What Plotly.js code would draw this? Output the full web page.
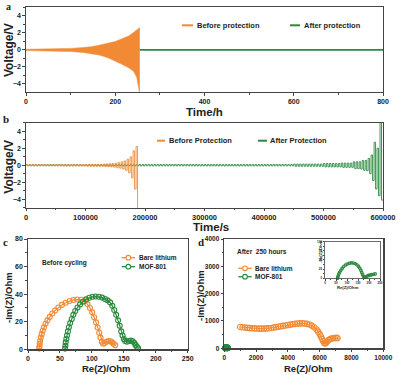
<!DOCTYPE html>
<html><head><meta charset="utf-8">
<script src="https://cdn.plot.ly/plotly-3.0.1.min.js"></script>
<style>html,body{margin:0;padding:0;background:#fff}#chart{width:398px;height:375px}</style>
</head><body><div id="chart"></div>
<script>
// ---------- DATA ----------
// Panel a: envelope of the dense voltage oscillation (Before protection)
const aEnvTime  = [0, 50, 100, 128, 150, 166, 185, 200, 215, 230, 241, 248, 252, 255];
const aEnvUpper = [0.08, 0.12, 0.18, 0.28, 0.4, 0.58, 0.8, 1.0, 1.3, 1.65, 2.05, 2.3, 2.55, 2.65];
const aEnvLower = [-0.08, -0.12, -0.2, -0.3, -0.45, -0.62, -0.95, -1.3, -1.7, -2.1, -2.5, -3.2, -4.5, -5.2];
const aAfterTime = [255, 800];
const aAfterV    = [0, 0];

// Panel b: per-cycle plateau voltages (cycle period in s)
const bCyclePeriod = 5000;
const bBeforeHigh = [
 0.05,0.05,0.05,0.05,0.05,0.05,0.05,0.05,0.05,0.05,
 0.07,0.07,0.07,0.07,0.07,0.07,0.07,0.07,0.07,0.07,
 0.1,0.1,0.1,0.1,0.1,0.1,0.13,0.15,0.18,0.2,
 0.25,0.3,0.4,0.5,0.7,1.0,1.7,2.2];
const bBeforeLow = [
 -0.05,-0.05,-0.05,-0.05,-0.05,-0.05,-0.05,-0.05,-0.05,-0.05,
 -0.08,-0.08,-0.08,-0.08,-0.08,-0.08,-0.08,-0.08,-0.08,-0.08,
 -0.12,-0.12,-0.12,-0.12,-0.12,-0.12,-0.15,-0.18,-0.2,-0.23,
 -0.3,-0.35,-0.45,-0.6,-0.9,-1.5,-2.8,-5.3];
const bAfterHigh = [
 0.06,0.06,0.06,0.06,0.06,0.06,0.06,0.06,0.06,0.06,
 0.06,0.06,0.06,0.06,0.06,0.06,0.06,0.06,0.06,0.06,
 0.06,0.06,0.06,0.06,0.06,0.06,0.06,0.06,0.06,0.06,
 0.06,0.06,0.06,0.06,0.06,0.06,0.06,0.06,0.08,0.08,
 0.08,0.08,0.08,0.08,0.08,0.08,0.08,0.08,0.08,0.08,
 0.08,0.08,0.08,0.08,0.08,0.08,0.08,0.08,0.08,0.08,
 0.08,0.08,0.08,0.08,0.08,0.08,0.08,0.08,0.08,0.08,
 0.08,0.08,0.08,0.08,0.08,0.08,0.08,0.08,0.08,0.08,
 0.08,0.08,0.08,0.08,0.08,0.08,0.08,0.08,0.08,0.08,
 0.13,0.13,0.13,0.13,0.13,0.13,0.13,0.13,0.13,0.13,
 0.2,0.2,0.2,0.2,0.2,0.2,0.25,0.25,0.25,0.25,
 0.4,0.4,0.4,0.55,0.55,0.8,1.2,2.7,2.0,5.2];
const bAfterLow = [
 -0.06,-0.06,-0.06,-0.06,-0.06,-0.06,-0.06,-0.06,-0.06,-0.06,
 -0.06,-0.06,-0.06,-0.06,-0.06,-0.06,-0.06,-0.06,-0.06,-0.06,
 -0.06,-0.06,-0.06,-0.06,-0.06,-0.06,-0.06,-0.06,-0.06,-0.06,
 -0.06,-0.06,-0.06,-0.06,-0.06,-0.06,-0.06,-0.06,-0.08,-0.08,
 -0.08,-0.08,-0.08,-0.08,-0.08,-0.08,-0.08,-0.08,-0.08,-0.08,
 -0.08,-0.08,-0.08,-0.08,-0.08,-0.08,-0.08,-0.08,-0.08,-0.08,
 -0.08,-0.08,-0.08,-0.08,-0.08,-0.08,-0.08,-0.08,-0.08,-0.08,
 -0.08,-0.08,-0.08,-0.08,-0.08,-0.08,-0.08,-0.08,-0.08,-0.08,
 -0.08,-0.08,-0.08,-0.08,-0.08,-0.08,-0.08,-0.08,-0.08,-0.08,
 -0.13,-0.13,-0.13,-0.13,-0.13,-0.13,-0.13,-0.13,-0.13,-0.13,
 -0.2,-0.2,-0.2,-0.2,-0.2,-0.2,-0.25,-0.25,-0.25,-0.25,
 -0.4,-0.4,-0.45,-0.6,-0.65,-1.0,-1.8,-2.8,-3.6,-4.1];

// Panel c: EIS before cycling
const cBareRe = [17.5,18,18.5,19,20,21.5,23,25,27.5,30.5,34,38,42.5,47.5,53,59,65,71,77,83,88.5,93,97,100.5,103.5,106.5,109,111.5,113.5,115.5,117.5,120,123,126,129,131.5,134,136.5];
const cBareIm = [0.5,2,4,6,8.5,11,13.5,16,18.5,21,23.5,26,28.2,30.3,32.2,33.8,35,35.8,36.1,35.9,34.8,32.8,30,26.8,23.3,19.5,15.8,12,8.5,5.5,4,4.5,5.5,6,5.8,5,4,3];
const cMofRe = [58,58.5,59,60,61,62.5,64,66,68.5,71,74,77.5,81.5,86,91,96,101,106,111,116,120.5,124.5,128.5,132,135,138,141,143.5,146,148,150,152,155,158,161,164,166.5,168.5,170.5,172.5];
const cMofIm = [0.5,2.5,5,7.5,10,13,16,19,22,25,27.8,30.3,32.5,34.5,36.2,37.4,38.1,38.3,38.1,37.5,36.5,35.5,34,31.5,28.5,25,21,17,13,10,7.5,6,5.5,6,6.3,5.8,4.5,3,1.8,0.8];

// Panel d: EIS after 250 hours
const dBareRe = [1000,1150,1300,1450,1600,1750,1900,2050,2200,2350,2500,2650,2800,2950,3100,3250,3400,3550,3700,3850,4000,4150,4300,4450,4600,4750,4900,5050,5200,5350,5500,5650,5800,5900,6000,6080,6150,6220,6280,6340,6400,6470,6550,6650,6750,6850,6950,7050,7120];
const dBareIm = [780,770,760,750,740,735,730,725,720,720,722,728,735,745,760,775,790,805,820,835,850,865,880,895,905,912,915,910,895,870,830,770,690,610,520,430,340,260,200,180,200,250,300,340,360,370,375,380,375];
const dMofRe = [57,58,60,63,67,72,78,85,93,101,110,119,128,137,145,152,158,163,167,171,175,180,186,192,198,205,212,220,228];
const dMofIm = [0,3,7,12,17,22,27,32,36,39,41,42,41.5,40,37,33,28,22,16,10,5,3,4,6,8,9,10,11,12];

// ---------- STYLE ----------
const W = 398, H = 375;
const ORANGE = '#F28A35', GREEN = '#2B8A3E';
const FONT = 'Liberation Sans, Arial, sans-serif';
const SERIF = 'Liberation Serif, Times New Roman, serif';
const fx = p => p / W;
const fy = p => 1 - p / H;

function squareWave(high, low, period) {
  const x = [], y = [];
  for (let k = 0; k < high.length; k++) {
    const t0 = k * period;
    x.push(t0, t0 + period / 2, t0 + period / 2, t0 + period);
    y.push(high[k], high[k], low[k], low[k]);
  }
  return {x, y};
}

function ax(domain, range, dtick, minorDtick, fsize, anchor, extra) {
  return Object.assign({
    domain, range, dtick, tick0: 0, anchor,
    showline: true, mirror: true, linecolor: '#444', linewidth: 1.2,
    ticks: 'outside', ticklen: 2.5, tickwidth: 1, tickcolor: '#444',
    minor: {ticks: 'outside', ticklen: 1.5, tickcolor: '#444', dtick: minorDtick, showgrid: false},
    showgrid: false, zeroline: false, tickformat: 'd',
    tickfont: {family: FONT, size: fsize, color: '#222', weight: 'bold'},
    fixedrange: true
  }, extra || {});
}

const bAfter = squareWave(bAfterHigh, bAfterLow, bCyclePeriod);
const bBefore = squareWave(bBeforeHigh, bBeforeLow, bCyclePeriod);

const mk = (c, s) => ({symbol: 'circle-open', size: s, color: c, line: {width: 1.1, color: c}});

const data = [
  {x: aEnvTime, y: aEnvLower, xaxis: 'x', yaxis: 'y', mode: 'lines', line: {color: ORANGE, width: 0.5}},
  {x: aEnvTime, y: aEnvUpper, xaxis: 'x', yaxis: 'y', mode: 'lines', fill: 'tonexty', fillcolor: ORANGE, line: {color: ORANGE, width: 0.5}},
  {x: aAfterTime, y: aAfterV, xaxis: 'x', yaxis: 'y', mode: 'lines', line: {color: GREEN, width: 1.6}},
  {x: bAfter.x, y: bAfter.y, xaxis: 'x2', yaxis: 'y2', mode: 'lines', line: {color: GREEN, width: 0.9}},
  {x: bBefore.x, y: bBefore.y, xaxis: 'x2', yaxis: 'y2', mode: 'lines', line: {color: ORANGE, width: 0.9}},
  {x: cBareRe, y: cBareIm, xaxis: 'x3', yaxis: 'y3', mode: 'lines+markers', cliponaxis: false, line: {color: ORANGE, width: 1.2}, marker: mk(ORANGE, 5)},
  {x: cMofRe, y: cMofIm, xaxis: 'x3', yaxis: 'y3', mode: 'lines+markers', cliponaxis: false, line: {color: GREEN, width: 1.2}, marker: mk(GREEN, 5)},
  {x: dBareRe, y: dBareIm, xaxis: 'x4', yaxis: 'y4', mode: 'lines+markers', cliponaxis: false, line: {color: ORANGE, width: 1.2}, marker: mk(ORANGE, 5.5)},
  {x: dMofRe, y: dMofIm, xaxis: 'x4', yaxis: 'y4', mode: 'lines+markers', cliponaxis: false, line: {color: GREEN, width: 1.2}, marker: mk(GREEN, 5)},
  {x: dMofRe, y: dMofIm, xaxis: 'x5', yaxis: 'y5', mode: 'lines+markers', cliponaxis: false, line: {color: GREEN, width: 0.8}, marker: mk(GREEN, 2.5)}
];

function txt(px, py, text, size, o) {
  return Object.assign({
    xref: 'paper', yref: 'paper', x: fx(px), y: fy(py), text, showarrow: false,
    xanchor: 'center', yanchor: 'middle',
    font: {family: FONT, size, color: '#222', weight: 'bold'}
  }, o || {});
}
function sline(x0, x1, y, c, w) {
  return {type: 'line', xref: 'paper', yref: 'paper', x0: fx(x0), x1: fx(x1), y0: fy(y), y1: fy(y), line: {color: c, width: w}};
}
function scirc(cx, cy, r, c) {
  return {type: 'circle', xref: 'paper', yref: 'paper', x0: fx(cx - r), x1: fx(cx + r), y0: fy(cy + r), y1: fy(cy - r), line: {color: c, width: 1.1}, fillcolor: '#fff'};
}

const layout = {
  width: W, height: H, margin: {l: 0, r: 0, t: 0, b: 0},
  paper_bgcolor: '#fff', plot_bgcolor: 'rgba(0,0,0,0)', showlegend: false,
  font: {family: FONT, color: '#222'},
  xaxis:  ax([fx(26), fx(383)], [0, 800], 200, 100, 7, 'y'),
  yaxis:  ax([fy(92), fy(7)], [-4.95, 5.05], 2, 1, 7, 'x'),
  xaxis2: ax([fx(26), fx(383)], [0, 600000], 100000, 50000, 7.5, 'y2'),
  yaxis2: ax([fy(207.7), fy(122.7)], [-5, 5], 2, 1, 7, 'x2'),
  xaxis3: ax([fx(28), fx(187.7)], [0, 250], 50, 25, 7, 'y3'),
  yaxis3: ax([fy(349.3), fy(239)], [0, 80], 20, 10, 7, 'x3'),
  xaxis4: ax([fx(224.3), fx(383.3)], [0, 10000], 2000, 1000, 6.5, 'y4'),
  yaxis4: ax([fy(348.3), fy(239)], [0, 4000], 1000, 500, 6.5, 'x4'),
  xaxis5: ax([fx(325), fx(380)], [0, 250], 50, 25, 3, 'y5', {ticklen: 1.5, linewidth: 0.8, minor: {ticks: 'outside', ticklen: 1, dtick: 25, tickcolor: '#444'}}),
  yaxis5: ax([fy(278.3), fy(241.5)], [0, 100], 25, 12.5, 3, 'x5', {ticklen: 1.5, linewidth: 0.8, minor: {ticks: 'outside', ticklen: 1, dtick: 12.5, tickcolor: '#444'}}),
  shapes: [
    sline(182, 193, 25.3, ORANGE, 2), sline(290, 300, 25.3, GREEN, 2),
    sline(157, 165, 140.7, ORANGE, 2), sline(258, 267, 140.7, GREEN, 2),
    sline(121.7, 135, 257.7, ORANGE, 1.3), scirc(128.3, 257.7, 2.3, ORANGE),
    sline(121.7, 135, 266.7, GREEN, 1.3), scirc(128.3, 266.7, 2.3, GREEN),
    sline(238.3, 251.7, 268.3, ORANGE, 1.3), scirc(245, 268.3, 2.3, ORANGE),
    sline(238.3, 251.7, 276.7, GREEN, 1.3), scirc(245, 276.7, 2.3, GREEN)
  ],
  annotations: [
    txt(8.3, 6.3, 'a', 10, {font: {family: SERIF, size: 10, color: '#222', weight: 'bold'}}),
    txt(6, 119, 'b', 11, {font: {family: SERIF, size: 11, color: '#222', weight: 'bold'}}),
    txt(5, 242, 'c', 11, {font: {family: SERIF, size: 11, color: '#222', weight: 'bold'}}),
    txt(201, 242, 'd', 11, {font: {family: SERIF, size: 11, color: '#222', weight: 'bold'}}),
    txt(9, 50, 'Voltage/V', 12, {textangle: -90}),
    txt(205, 111.5, 'Time/h', 11.5),
    txt(9, 166.7, 'Voltage/V', 12, {textangle: -90}),
    txt(211, 226.5, 'Time/s', 11.5),
    txt(106.7, 368, 'Re(Z)/Ohm', 9.5),
    txt(8, 298, '-Im(Z)/Ohm', 9.5, {textangle: -90}),
    txt(308, 368, 'Re(Z)/Ohm', 9.5),
    txt(200, 295, '-Im(Z)/Ohm', 9.5, {textangle: -90}),
    txt(348, 287, 'Re(Z)/Ohm', 4.2),
    txt(320, 252, '-Im(Z)/Ohm', 4.2, {textangle: -90}),
    txt(194.5, 25.3, 'Before protection', 7.5, {xanchor: 'left'}),
    txt(301.5, 25.3, 'After protection', 7.5, {xanchor: 'left'}),
    txt(167, 140.7, 'Before Protection', 7.5, {xanchor: 'left'}),
    txt(268, 140.7, 'After Protection', 7.5, {xanchor: 'left'}),
    txt(64, 263.3, 'Before cycling', 6.5),
    txt(136.5, 257.7, 'Bare lithium', 6.5, {xanchor: 'left'}),
    txt(136.5, 266.7, 'MOF-801', 6.5, {xanchor: 'left'}),
    txt(262, 251.7, 'After\u00a0 250 hours', 6.5),
    txt(253, 268.3, 'Bare lithium', 6.5, {xanchor: 'left'}),
    txt(253, 276.7, 'MOF-801', 6.5, {xanchor: 'left'})
  ]
};

Plotly.newPlot('chart', data, layout, {staticPlot: true, displayModeBar: false});
</script>
</body></html>
